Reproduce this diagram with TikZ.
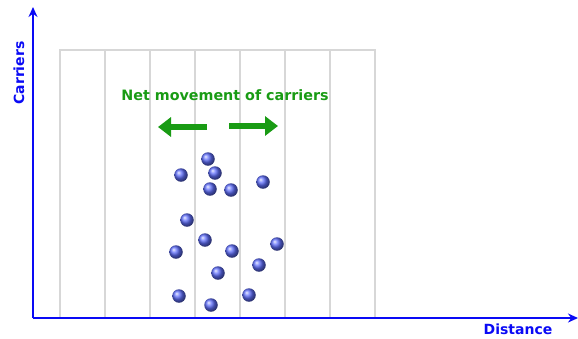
\documentclass[tikz,border=0pt]{standalone}
\usepackage{fontspec}
\setmainfont{DejaVu Sans}
\usetikzlibrary{arrows.meta}
\definecolor{axisblue}{RGB}{10,10,245}
\definecolor{netgreen}{RGB}{25,155,20}
\definecolor{gridgray}{RGB}{215,215,215}
\definecolor{ballblue}{RGB}{95,110,250}
\tikzset{
  axis/.style={line width=2.4pt, draw=axisblue, -{Stealth[length=10pt,width=9pt]}},
  axislabel/.style={text=axisblue, font=\bfseries\fontsize{14}{16}\selectfont, inner sep=0pt},
  gridline/.style={draw=gridgray, line width=1.3pt},
  flow/.style={draw=netgreen, line width=5.5pt, -{Triangle[length=13pt,width=19pt]}},
  carrier/.style={circle, minimum size=13.5pt, inner sep=0pt, ball color=ballblue, draw=none}
}
\begin{document}
\begin{tikzpicture}[x=1pt,y=-1pt]
\useasboundingbox (0,0) rectangle (578,338);
% grid of slices
\draw[gridline] (60,50) rectangle (375,318);
\foreach \gx in {105,150,...,330} \draw[gridline] (\gx,50) -- (\gx,318);
% axes
\coordinate (o) at (33,318);
\coordinate (ytip) at (33,7);
\coordinate (xtip) at (578,318);
\draw[axis] (o) -- (ytip);
\draw[axis] (o) -- (xtip);
\node[axislabel, rotate=90] (ylab) at (19,73) {Carriers};
\node[axislabel, anchor=base] (xlab) at (518,334.5) {Distance};
% net flow
\node[text=netgreen, font=\bfseries\fontsize{14.3}{16}\selectfont, inner sep=0pt] (title) at (225,95) {Net movement of carriers};
\coordinate (la) at (207,127);
\coordinate (lb) at (158,127);
\coordinate (ra) at (229,126);
\coordinate (rb) at (278,126);
\draw[flow] (la) -- (lb);
\draw[flow] (ra) -- (rb);
% carriers
\foreach \cx/\cy [count=\i] in {208/159,181/175,215/173,210/189,231/190,263/182,
  187/220,205/240,176/252,232/251,277/244,218/273,259/265,179/296,211/305,249/295}
  \node[carrier] (c\i) at (\cx,\cy) {};
\end{tikzpicture}
\end{document}
